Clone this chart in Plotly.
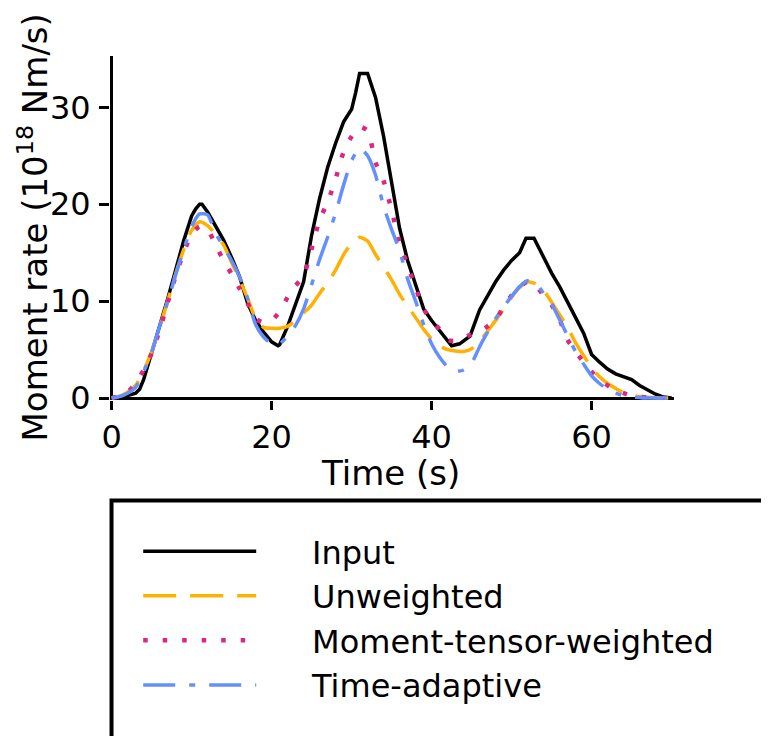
import plotly.graph_objects as go

# ---------------- data ----------------
input_t = [0, 1, 2, 3, 3.5, 4, 5, 6, 7, 8, 9, 10, 10.5, 11, 11.3, 12, 13, 14, 15, 16, 17, 18, 19, 20,
           20.8, 21, 22, 23, 24, 25, 26, 27, 28, 29, 30, 30.5, 31, 32, 33, 34, 35, 36, 37, 38, 39, 40,
           41, 42, 42.5, 43.5, 44.8, 46, 47, 48, 49, 50, 51, 51.8, 52.8, 54, 55, 56, 57, 58, 59, 60,
           61, 62, 63, 64, 65, 66, 67, 68, 69, 70]
input_v = [0, 0.1, 0.25, 0.5, 0.9, 1.9, 4.6, 7.3, 10.2, 13.2, 16.2, 18.8, 19.5, 20.0, 20.0, 19.2, 17.8,
           16.3, 14.5, 12.5, 9.8, 8.0, 6.8, 5.8, 5.4, 5.5, 7.4, 9.6, 12.0, 16.8, 20.6, 23.8, 26.3, 28.5,
           29.8, 31.5, 33.5, 33.5, 31.0, 27.0, 22.0, 17.5, 14.2, 11.8, 9.2, 8.0, 7.0, 5.9, 5.4, 5.6,
           6.4, 9.1, 10.6, 12.0, 13.2, 14.2, 15.0, 16.5, 16.5, 14.5, 12.9, 11.5, 9.8, 8.3, 6.7, 4.5,
           3.7, 3.0, 2.5, 2.2, 1.9, 1.3, 0.8, 0.4, 0.1, 0]

t_grid = list(range(0, 71))

unweighted_v = [0, 0.2, 0.6, 1.3, 2.8, 4.8, 7.3, 10.0, 12.8, 15.3, 17.3, 18.2, 17.8, 16.9, 15.8, 14.0,
                12.2, 10.3, 8.2, 7.3, 7.2, 7.2, 7.4, 8.0, 8.8, 9.6, 10.8, 11.9, 13.2, 14.8, 16.0, 16.6,
                16.2, 14.8, 13.5, 12.2, 10.7, 9.5, 8.3, 7.1, 6.1, 5.4, 5.0, 4.85, 4.8, 5.1, 5.8, 6.9,
                8.0, 9.2, 10.4, 11.4, 12.0, 11.8, 11.1, 9.9, 8.6, 7.3, 5.7, 4.4, 3.1, 2.2, 1.5, 1.0,
                0.55, 0.3, 0.15, 0.08, 0.03, 0, 0]

mt_weighted_v = [0, 0.2, 0.6, 1.5, 2.9, 4.6, 7.0, 9.8, 12.6, 15.0, 16.9, 17.7, 17.4, 15.8, 14.2, 12.8,
                 11.3, 9.8, 8.2, 7.8, 8.0, 8.9, 10.4, 11.6, 12.6, 15.4, 18.4, 20.2, 22.6, 25.4, 27.0,
                 28.0, 27.6, 24.3, 22.4, 19.4, 16.0, 13.7, 11.4, 9.2, 8.0, 7.1, 6.0, 5.9, 6.2, 6.6,
                 6.9, 7.4, 8.1, 9.4, 10.6, 11.5, 12.0, 11.6, 10.6, 9.6, 8.1, 6.0, 4.8, 3.7, 2.7, 1.9,
                 1.3, 0.8, 0.5, 0.25, 0.12, 0.05, 0, 0, 0]

time_adaptive_v = [0, 0.15, 0.5, 1.1, 2.7, 4.7, 7.4, 9.9, 12.7, 15.3, 17.7, 19.0, 18.9, 17.0, 15.6,
                   14.2, 12.5, 10.3, 7.6, 6.3, 5.6, 5.6, 6.4, 7.5, 9.2, 11.7, 14.3, 16.6, 19.1, 22.0,
                   24.5, 25.8, 25.0, 23.0, 19.8, 17.4, 15.2, 12.3, 10.0, 7.6, 5.6, 4.2, 3.2, 2.75, 2.9,
                   3.6, 5.3, 6.8, 8.2, 9.4, 10.5, 11.5, 12.1, 11.9, 10.8, 9.7, 8.1, 6.4, 4.8, 3.5, 2.3,
                   1.5, 0.9, 0.5, 0.25, 0.1, 0.05, 0, 0, 0, 0]

series_names = ["Input", "Unweighted", "Moment-tensor-weighted", "Time-adaptive"]
x_ticks = [0, 20, 40, 60]
y_ticks = [0, 10, 20, 30]
x_title = "Time (s)"
y_title = "Moment rate (10<sup>18</sup> Nm/s)"

FONT = "DejaVu Sans"
PAD = "\u00a0" * 5  # gap between legend sample line and its label

fig = go.Figure()
fig.add_trace(go.Scatter(x=input_t, y=input_v, mode="lines", name=PAD + series_names[0],
                         line=dict(color="#000000", width=3.5)))
fig.add_trace(go.Scatter(x=t_grid, y=unweighted_v, mode="lines", name=PAD + series_names[1],
                         line=dict(color="#FFB000", width=3.5, dash="33px,14px", shape="spline", smoothing=0.6)))
fig.add_trace(go.Scatter(x=t_grid, y=mt_weighted_v, mode="lines", name=PAD + series_names[2],
                         line=dict(color="#DC267F", width=4.5, dash="4.5px,15px", shape="spline", smoothing=0.6)))
fig.add_trace(go.Scatter(x=t_grid, y=time_adaptive_v, mode="lines", name=PAD + series_names[3],
                         line=dict(color="#648FFF", width=3.5, dash="32px,14px,6px,14px", shape="spline", smoothing=0.6)))

fig.update_layout(
    width=761, height=728,
    margin=dict(l=102, r=95, t=48, b=336, pad=0, autoexpand=False),
    paper_bgcolor="white", plot_bgcolor="white",
    font=dict(family=FONT, color="black", size=34),
    showlegend=True,
    legend=dict(x=0.05, y=-0.36, xanchor="left", yanchor="top",
                font=dict(family=FONT, size=32, color="black"),
                bgcolor="rgba(0,0,0,0)", borderwidth=0,
                itemwidth=113, tracegroupgap=0),
    xaxis=dict(range=[-0.2, 70.3], tickvals=x_ticks, ticks="outside", ticklen=9, tickwidth=3,
               tickcolor="black", showline=False, showgrid=False,
               zeroline=True, zerolinecolor="black", zerolinewidth=3,
               tickfont=dict(family=FONT, size=32)),
    yaxis=dict(range=[-0.2, 35.3], tickvals=y_ticks, ticks="outside", ticklen=10, tickwidth=3,
               tickcolor="black", showline=False, showgrid=False,
               zeroline=True, zerolinecolor="black", zerolinewidth=3,
               tickfont=dict(family=FONT, size=32), ticklabelstandoff=2),
    annotations=[
        dict(text=x_title, xref="paper", yref="paper", x=0.4965, y=-0.212,
             xanchor="center", yanchor="middle", showarrow=False,
             font=dict(family=FONT, size=34, color="black")),
        dict(text=y_title, xref="paper", yref="paper", x=-0.1374, y=0.5, textangle=-90,
             xanchor="center", yanchor="middle", showarrow=False,
             font=dict(family=FONT, size=34, color="black")),
    ],
    shapes=[dict(type="rect", xref="paper", yref="paper", x0=0.0027, x1=1.6, y0=-1.5, y1=-0.292,
                 line=dict(color="black", width=4), fillcolor="rgba(0,0,0,0)", layer="above")],
)

fig.write_html("out.html")
